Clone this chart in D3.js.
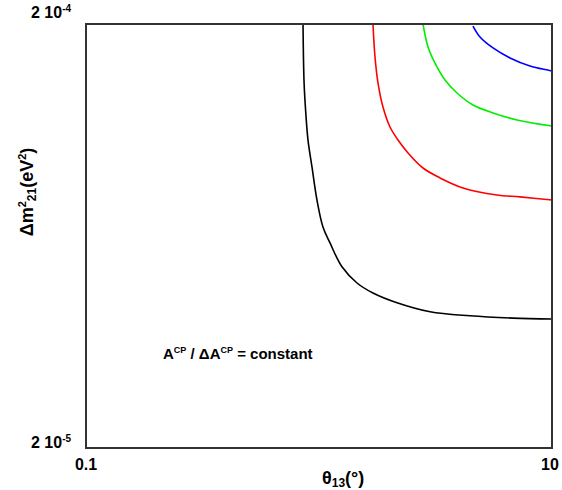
<!DOCTYPE html>
<html>
<head>
<meta charset="utf-8">
<script src="https://cdn.jsdelivr.net/npm/d3@7"></script>
<style>
  body { margin: 0; background: #fff; }
  text { font-family: "Liberation Sans", Arial, sans-serif; font-weight: bold; fill: #000; }
</style>
</head>
<body>
<svg id="chart" width="562" height="490"></svg>
<script>
// data: theta13 (deg) vs dm2 (eV^2)
const blackX = [0.854, 0.863, 0.880, 0.897, 0.933, 0.980, 1.040, 1.115, 1.255, 1.456, 1.705, 2.162, 2.995, 4.447, 6.80, 10];
const blackY = [2.0e-4, 1.451e-4, 1.207e-4, 1.065e-4, 9.20e-5, 7.69e-5, 6.64e-5, 6.09e-5, 5.35e-5, 4.90e-5, 4.64e-5, 4.40e-5, 4.19e-5, 4.10e-5, 4.05e-5, 4.03e-5];
const redX = [1.705, 1.739, 1.792, 1.882, 2.017, 2.183, 2.41, 2.795, 3.306, 4.15, 5.805, 7.29, 10];
const redY = [2.0e-4, 1.672e-4, 1.451e-4, 1.274e-4, 1.143e-4, 1.065e-4, 9.93e-5, 9.15e-5, 8.67e-5, 8.21e-5, 7.90e-5, 7.82e-5, 7.69e-5];
const greenX = [2.795, 2.937, 3.147, 3.474, 3.911, 4.58, 5.584, 7.076, 10];
const greenY = [2.0e-4, 1.766e-4, 1.618e-4, 1.476e-4, 1.375e-4, 1.288e-4, 1.234e-4, 1.188e-4, 1.149e-4];
const blueX = [4.58, 4.909, 5.584, 6.603, 8.045, 10];
const blueY = [1.978e-4, 1.864e-4, 1.756e-4, 1.663e-4, 1.592e-4, 1.550e-4];

const xTicks = [0.1, 10];
const xTickLabels = ["0.1", "10"];
const yTicks = [2e-5, 2e-4];
const yTickExp = ["-5", "-4"];

const series = [
  { xs: blackX, ys: blackY, color: "#000000" },
  { xs: redX, ys: redY, color: "#ff0000" },
  { xs: greenX, ys: greenY, color: "#00ee00" },
  { xs: blueX, ys: blueY, color: "#0000ff" },
];

const margin = { left: 86, top: 24, right: 10, bottom: 42 };
const W = 562, H = 490;
const svg = d3.select("#chart");

const x = d3.scaleLog().domain([0.1, 10]).range([margin.left, W - margin.right]);
const y = d3.scaleLog().domain([2e-5, 2e-4]).range([H - margin.bottom, margin.top]);

// curves
const line = d3.line().x(d => x(d[0])).y(d => y(d[1])).curve(d3.curveCatmullRom.alpha(0.5));
series.forEach(s => {
  svg.append("path")
    .datum(d3.zip(s.xs, s.ys))
    .attr("d", line)
    .attr("fill", "none")
    .attr("stroke", s.color)
    .attr("stroke-width", 1.6);
});

// frame
svg.append("rect")
  .attr("x", x(0.1)).attr("y", y(2e-4))
  .attr("width", x(10) - x(0.1)).attr("height", y(2e-5) - y(2e-4))
  .attr("fill", "none").attr("stroke", "#333").attr("stroke-width", 2);

// x tick labels
xTicks.forEach((t, i) => {
  svg.append("text")
    .attr("x", x(t) + (i === 0 ? 0 : -2)).attr("y", y(2e-5) + 22)
    .attr("text-anchor", "middle")
    .style("font-size", "16px")
    .text(xTickLabels[i]);
});

// y tick labels
yTicks.forEach((t, i) => {
  const txt = svg.append("text")
    .attr("x", x(0.1) - 55).attr("y", y(t) + (i === 0 ? 0 : -6))
    .style("font-size", "16px");
  txt.append("tspan").text("2 10");
  txt.append("tspan").attr("dy", -6).style("font-size", "10px").text(yTickExp[i]);
});

// x axis title
const xt = svg.append("text")
  .attr("x", 322).attr("y", 484)
  .style("font-size", "18px");
xt.append("tspan").text("θ");
xt.append("tspan").attr("dy", 3).style("font-size", "12px").text("13");
xt.append("tspan").attr("dy", -3).text("(°)");

// y axis title
const yt = svg.append("text")
  .attr("transform", "translate(33,192) rotate(-90)")
  .attr("text-anchor", "middle")
  .style("font-size", "18px");
yt.append("tspan").text("Δm");
yt.append("tspan").attr("dy", -7).style("font-size", "11px").text("2");
yt.append("tspan").attr("dy", 10).style("font-size", "12px").text("21");
yt.append("tspan").attr("dy", -3).text("(eV");
yt.append("tspan").attr("dy", -7).style("font-size", "11px").text("2");
yt.append("tspan").attr("dy", 7).text(")");

// annotation
const ann = svg.append("text")
  .attr("x", 163).attr("y", 359)
  .style("font-size", "15px");
ann.append("tspan").text("A");
ann.append("tspan").attr("dy", -6).style("font-size", "9px").text("CP");
ann.append("tspan").attr("dy", 6).text(" / ΔA");
ann.append("tspan").attr("dy", -6).style("font-size", "9px").text("CP");
ann.append("tspan").attr("dy", 6).text("  =  constant");
</script>
</body>
</html>
